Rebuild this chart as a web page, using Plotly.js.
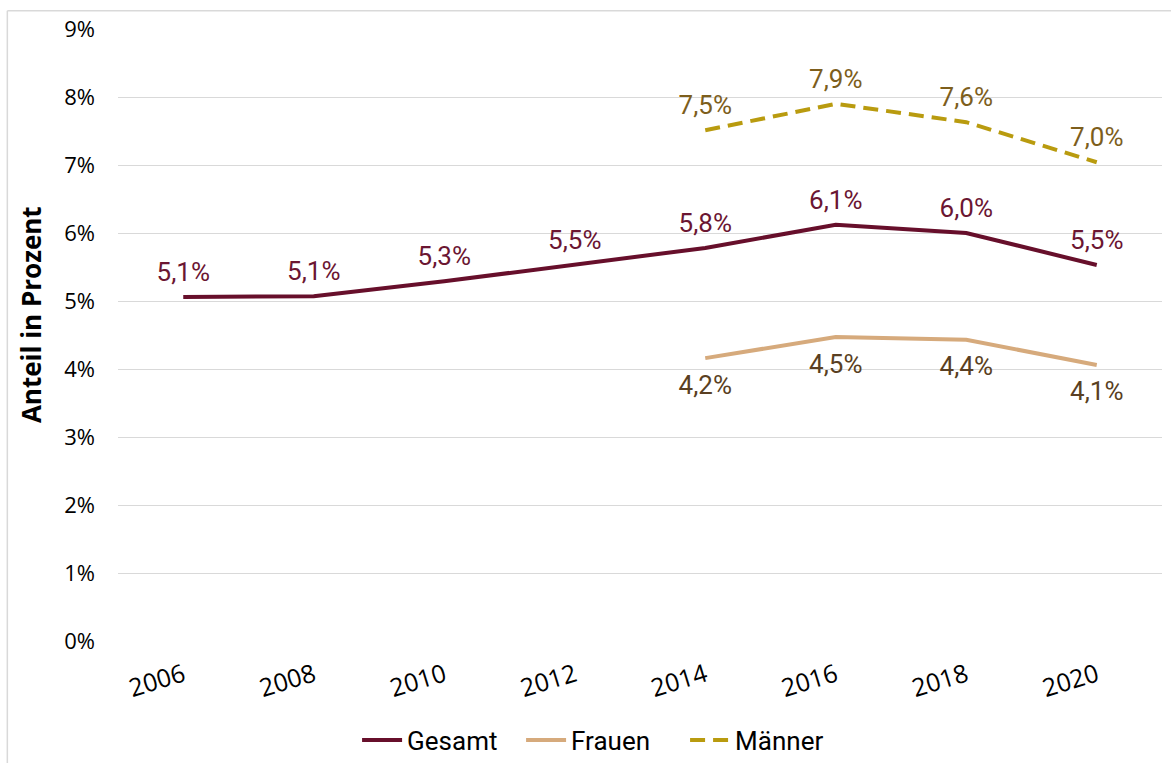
<!DOCTYPE html>
<html><head><meta charset="utf-8">
<script src="https://cdn.plot.ly/plotly-3.0.1.min.js"></script>
<style>html,body{margin:0;padding:0;background:#fff}#chart{width:1171px;height:763px}</style>
</head><body><div id="chart"></div>
<script>
const years = ['2006','2008','2010','2012','2014','2016','2018','2020'];
const gesamt = [5.06, 5.07, 5.29, 5.53, 5.78, 6.12, 6.00, 5.53];
const gesamtLabels = ['5,1%','5,1%','5,3%','5,5%','5,8%','6,1%','6,0%','5,5%'];
const frauenYears = ['2014','2016','2018','2020'];
const frauen = [4.16, 4.47, 4.43, 4.06];
const frauenLabels = ['4,2%','4,5%','4,4%','4,1%'];
const maennerYears = ['2014','2016','2018','2020'];
const maenner = [7.51, 7.90, 7.63, 7.04];
const maennerLabels = ['7,5%','7,9%','7,6%','7,0%'];
const yTicks = [0,1,2,3,4,5,6,7,8,9];
const yTickText = yTicks.map(v => v + '%');

const labelFont = 'Roboto, sans-serif';
const tickFont = 'Open Sans, sans-serif';
const clear = 'rgba(0,0,0,0)';
const traces = [
  {x: years, y: gesamt, name: 'Gesamt', type: 'scatter', mode: 'lines+markers+text',
   text: gesamtLabels, textposition: 'top center', marker: {size: 14, color: clear},
   textfont: {family: labelFont, size: 26, color: '#6b1632'},
   line: {color: '#670f2b', width: 4}},
  {x: frauenYears, y: frauen, name: 'Frauen', type: 'scatter', mode: 'lines+markers+text',
   text: frauenLabels, textposition: 'bottom center', marker: {size: 24, color: clear},
   textfont: {family: labelFont, size: 26, color: '#5a3f22'},
   line: {color: '#d6aa7c', width: 4}},
  {x: maennerYears, y: maenner, name: 'Männer', type: 'scatter', mode: 'lines+markers+text',
   text: maennerLabels, textposition: 'top center', marker: {size: 14, color: clear},
   textfont: {family: labelFont, size: 26, color: '#7d5e1c'},
   line: {color: '#b99b0f', width: 4, dash: '15px,8px'}}
];

const layout = {
  width: 1171, height: 763,
  margin: {l: 118, r: 9, t: 29, b: 122, autoexpand: false},
  paper_bgcolor: '#fff', plot_bgcolor: '#fff',
  font: {family: tickFont, color: '#000'},
  showlegend: true,
  legend: {orientation: 'h', x: 0.229, xanchor: 'left', y: -0.162, yanchor: 'middle',
           font: {family: labelFont, size: 26, color: '#000'}, traceorder: 'normal',
           itemwidth: 40, entrywidth: 109},
  xaxis: {type: 'category', categoryorder: 'array', categoryarray: years,
          tickangle: -17, tickfont: {size: 25, family: tickFont},
          ticklabelstandoff: 14,
          showgrid: false, zeroline: false, showline: false, ticks: '',
          range: [-0.5, 7.5]},
  yaxis: {range: [0, 9], tickvals: yTicks, ticktext: yTickText,
          tickfont: {size: 22, family: tickFont},
          showgrid: true, gridcolor: '#d9d9d9', gridwidth: 1.3, zeroline: false,
          ticks: '', ticklabelstandoff: 22},
  annotations: [
    {text: '<b>Anteil in Prozent</b>', xref: 'paper', yref: 'paper',
     x: -0.084, y: 0.533, xanchor: 'center', yanchor: 'middle', textangle: -90,
     showarrow: false, font: {family: tickFont, size: 26, color: '#000'}}
  ],
  shapes: [
    {type: 'line', xref: 'paper', yref: 'paper', x0: -0.106, x1: -0.106, y0: -0.2, y1: 1.03,
     line: {color: '#d9d9d9', width: 1.5}},
    {type: 'line', xref: 'paper', yref: 'paper', x0: -0.106, x1: 1.01, y0: 1.03, y1: 1.03,
     line: {color: '#d9d9d9', width: 1.5}}
  ]
};
Plotly.newPlot('chart', traces, layout, {displayModeBar: false});
</script></body></html>
